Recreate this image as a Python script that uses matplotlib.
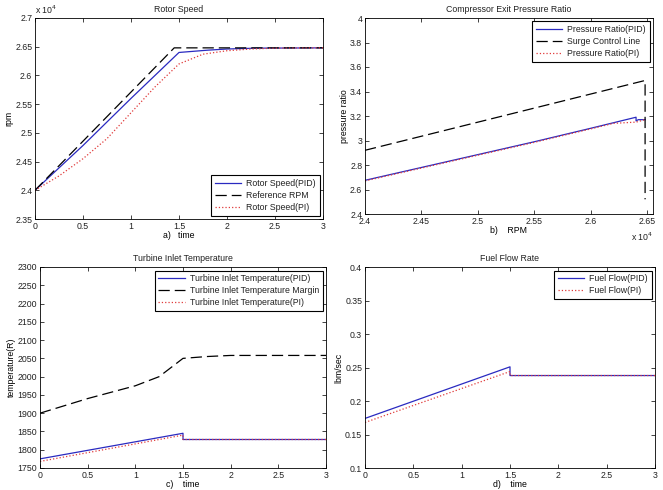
import numpy as np
import matplotlib.pyplot as plt
from matplotlib.ticker import FuncFormatter

## Données lues sur la figure
# a) vitesse rotor
t_pid = [0, 0.5, 1.0, 1.5, 1.8, 2.0, 2.3, 3.0]
rpm_pid = [24000, 24780, 25600, 26400, 26440, 26460, 26475, 26480]
t_ref = [0, 1.45, 3.0]
rpm_ref = [24000, 26480, 26480]
t_pi = [0, 0.25, 0.5, 0.75, 1.0, 1.25, 1.5, 1.75, 2.0, 2.25, 2.5, 3.0]
rpm_pi = [24000, 24250, 24550, 24900, 25350, 25800, 26200, 26370, 26430, 26460, 26475, 26480]

# b) rapport de pression
rpm_pr_pid = [24000, 24500, 25000, 25500, 26000, 26400, 26400, 26420, 26480]
pr_pid = [2.675, 2.78, 2.885, 2.99, 3.10, 3.19, 3.16, 3.17, 3.17]
rpm_surge = [24000, 26480, 26480]
pr_surge = [2.92, 3.49, 2.52]
rpm_pr_pi = [24000, 24500, 25000, 25500, 26000, 26200, 26400, 26480]
pr_pi = [2.67, 2.775, 2.88, 2.985, 3.095, 3.14, 3.15, 3.17]

# c) température d'entrée turbine
t_tit = [0, 1.5, 1.5, 3.0]
tit_pid = [1775, 1845, 1828, 1828]
tit_pi = [1768, 1840, 1828, 1828]
t_marge = [0, 0.5, 1.0, 1.25, 1.5, 1.75, 2.0, 3.0]
tit_marge = [1900, 1940, 1975, 2000, 2050, 2055, 2058, 2058]

# d) débit de carburant
t_fuel = [0, 1.5, 1.5, 3.0]
fuel_pid = [0.174, 0.251, 0.238, 0.238]
fuel_pi = [0.168, 0.244, 0.238, 0.238]

bleu = '#2a2ac0'
rouge = '#e03a3a'
dash = (0, (9, 4))
taille = 6.3

plt.rcParams['font.family'] = ['Liberation Sans', 'DejaVu Sans']
plt.rcParams['font.size'] = taille
plt.rcParams['xtick.direction'] = 'in'
plt.rcParams['ytick.direction'] = 'in'
plt.rcParams['xtick.top'] = True
plt.rcParams['ytick.right'] = True
plt.rcParams['text.color'] = '#222222'

fig = plt.figure(figsize=(6.63, 4.9), dpi=100)

fmt_g = FuncFormatter(lambda v, p: '%g' % round(v, 6))
fmt_e4 = FuncFormatter(lambda v, p: '%g' % round(v / 1e4, 6))

def legende(ax, ou):
    leg = ax.legend(loc=ou, fancybox=False, edgecolor='black', handlelength=3.0,
                    fontsize=taille, borderaxespad=0.4, labelspacing=0.35, borderpad=0.4,
                    handletextpad=0.6)
    leg.get_frame().set_linewidth(0.8)
    leg.get_frame().set_alpha(1)

## a)
ax1 = fig.add_axes([35/663, 1 - 219/490, 288/663, 201/490])
ax1.plot(t_pid, rpm_pid, color=bleu, lw=0.9, label='Rotor Speed(PID)')
ax1.plot(t_ref, rpm_ref, color='black', lw=0.9, ls=dash, label='Reference RPM')
ax1.plot(t_pi, rpm_pi, color=rouge, lw=0.9, ls=':', label='Rotor Speed(PI)')
ax1.set_xlim(0, 3)
ax1.set_ylim(23500, 27000)
ax1.set_yticks(np.arange(23500, 27001, 500))
ax1.yaxis.set_major_formatter(fmt_e4)
ax1.xaxis.set_major_formatter(fmt_g)
ax1.text(0.0, 1.01, 'x 10$^4$', transform=ax1.transAxes, ha='left', va='bottom')
ax1.set_title('Rotor Speed', fontsize=taille, pad=4)
ax1.set_xlabel('a)   time', labelpad=0)
ax1.set_ylabel('rpm', labelpad=1)
legende(ax1, 'lower right')

## b)
ax2 = fig.add_axes([365/663, 1 - 214/490, 288/663, 196/490])
ax2.plot(rpm_pr_pid, pr_pid, color=bleu, lw=0.9, label='Pressure Ratio(PID)')
ax2.plot(rpm_surge, pr_surge, color='black', lw=0.9, ls=dash, label='Surge Control Line')
ax2.plot(rpm_pr_pi, pr_pi, color=rouge, lw=0.9, ls=':', label='Pressure Ratio(PI)')
ax2.set_xlim(24000, 26550)
ax2.set_ylim(2.4, 4)
ax2.set_xticks(np.arange(24000, 26501, 500))
ax2.xaxis.set_major_formatter(fmt_e4)
ax2.yaxis.set_major_formatter(fmt_g)
ax2.text(1.0, -0.085, 'x 10$^4$', transform=ax2.transAxes, ha='right', va='top')
ax2.set_title('Compressor Exit Pressure Ratio', fontsize=taille, pad=4)
ax2.set_xlabel('b)    RPM', labelpad=0)
ax2.set_ylabel('pressure ratio', labelpad=1)
legende(ax2, 'upper right')

## c)
ax3 = fig.add_axes([40/663, 1 - 468/490, 286/663, 201/490])
ax3.plot(t_tit, tit_pid, color=bleu, lw=0.9, label='Turbine Inlet Temperature(PID)')
ax3.plot(t_marge, tit_marge, color='black', lw=0.9, ls=dash, label='Turbine Inlet Temperature Margin')
ax3.plot(t_tit, tit_pi, color=rouge, lw=0.9, ls=':', label='Turbine Inlet Temperature(PI)')
ax3.set_xlim(0, 3)
ax3.set_ylim(1750, 2300)
ax3.set_yticks(np.arange(1750, 2301, 50))
ax3.xaxis.set_major_formatter(fmt_g)
ax3.set_title('Turbine Inlet Temperature', fontsize=taille, pad=4)
ax3.set_xlabel('c)    time', labelpad=0)
ax3.set_ylabel('temperature(R)', labelpad=1)
legende(ax3, 'upper right')

## d)
ax4 = fig.add_axes([365/663, 1 - 468/490, 290/663, 201/490])
ax4.plot(t_fuel, fuel_pid, color=bleu, lw=0.9, label='Fuel Flow(PID)')
ax4.plot(t_fuel, fuel_pi, color=rouge, lw=0.9, ls=':', label='Fuel Flow(PI)')
ax4.set_xlim(0, 3)
ax4.set_ylim(0.1, 0.4)
ax4.xaxis.set_major_formatter(fmt_g)
ax4.yaxis.set_major_formatter(fmt_g)
ax4.set_title('Fuel Flow Rate', fontsize=taille, pad=4)
ax4.set_xlabel('d)    time', labelpad=0)
ax4.set_ylabel('lbm/sec', labelpad=1)
legende(ax4, 'upper right')

for ax in (ax1, ax2, ax3, ax4):
    ax.tick_params(length=3, width=0.6, pad=2, colors='#222222', labelsize=taille)
    for s in ax.spines.values():
        s.set_linewidth(0.6)

plt.savefig('out.png', dpi=100)
